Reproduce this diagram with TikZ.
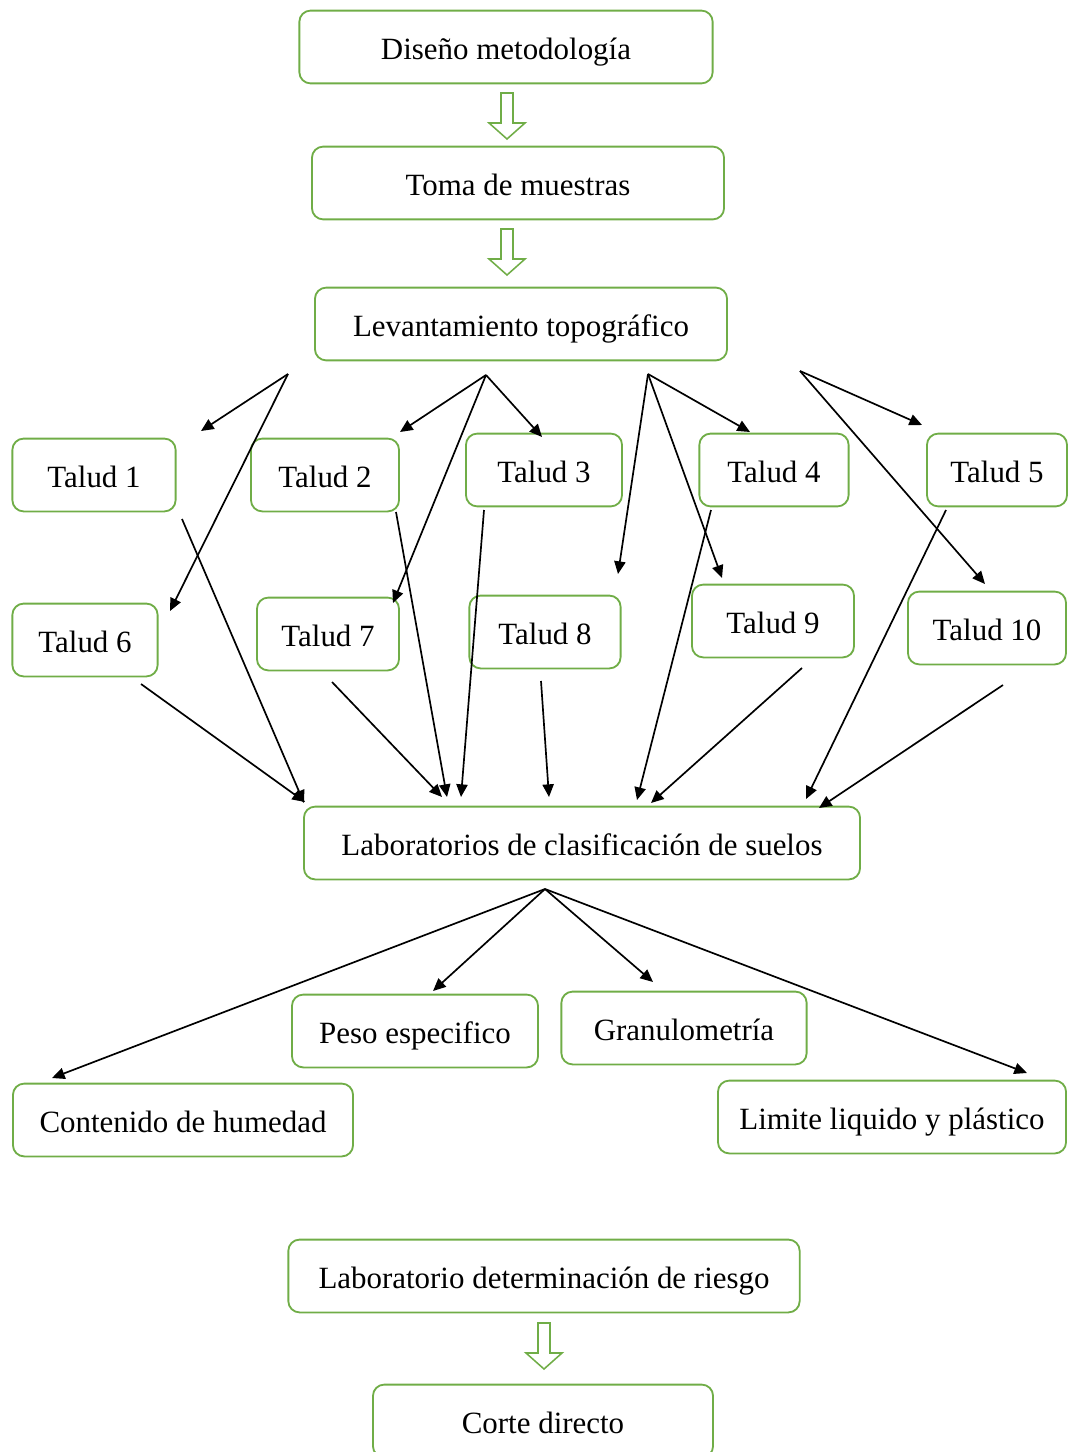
\documentclass[tikz,border=0pt]{standalone}
\usepackage{fontspec}
\setmainfont{Liberation Serif}
\usetikzlibrary{arrows.meta}
\definecolor{boxgreen}{RGB}{112,173,71}
\tikzset{
  box/.style={draw=boxgreen, line width=1.3pt, rounded corners=8pt, inner sep=0pt,
    minimum height=1.82cm, text height=18pt, text depth=0pt, font=\fontsize{22}{25}\selectfont},
  link/.style={-{Triangle[length=9pt,width=8pt]}, line width=1.2pt},
  hollow/.style={draw=boxgreen, line width=1.1pt}
}
\begin{document}
\begin{tikzpicture}[x=0.025cm, y=-0.025cm]
  \useasboundingbox (0,0) rectangle (1067,1452);
  % main column
  \node[box, minimum width=10.33cm] (diseno) at (506,47) {Diseño metodología};
  \node[box, minimum width=10.3cm] (toma) at (518,183) {Toma de muestras};
  \node[box, minimum width=10.3cm] (lev) at (521,324) {Levantamiento topográfico};
  % taludes
  \node[box, minimum width=4.08cm] (t1) at (94,475) {Talud 1};
  \node[box, minimum width=3.7cm] (t2) at (325,475) {Talud 2};
  \node[box, minimum width=3.9cm] (t3) at (544,470) {Talud 3};
  \node[box, minimum width=3.73cm] (t4) at (774,470) {Talud 4};
  \node[box, minimum width=3.5cm] (t5) at (997,470) {Talud 5};
  \node[box, minimum width=3.63cm] (t6) at (85,640) {Talud 6};
  \node[box, minimum width=3.55cm] (t7) at (328,634) {Talud 7};
  \node[box, minimum width=3.78cm] (t8) at (545,632) {Talud 8};
  \node[box, minimum width=4.05cm] (t9) at (773,621) {Talud 9};
  \node[box, minimum width=3.95cm] (t10) at (987,628) {Talud 10};
  % laboratorios
  \node[box, minimum width=13.9cm] (lab) at (582,843) {Laboratorios de clasificación de suelos};
  \node[box, minimum width=6.15cm] (peso) at (415,1031) {Peso especifico};
  \node[box, minimum width=6.13cm] (gran) at (684,1028) {Granulometría};
  \node[box, minimum width=8.5cm] (cont) at (183,1120) {Contenido de humedad};
  \node[box, minimum width=8.7cm] (lim) at (892,1117) {Limite liquido y plástico};
  \node[box, minimum width=12.78cm] (riesgo) at (544,1276) {Laboratorio determinación de riesgo};
  \node[box, minimum width=8.5cm] (corte) at (543,1421) {Corte directo};
  % hollow arrows
  \coordinate (h1) at (507,93);
  \coordinate (h2) at (507,229);
  \coordinate (h3) at (544,1323);
  \draw[hollow] (h1) ++(-6,0) -- ++(0,30) -- ++(-12,0) -- ++(18,16) -- ++(18,-16) -- ++(-12,0) -- ++(0,-30) -- cycle;
  \draw[hollow] (h2) ++(-6,0) -- ++(0,30) -- ++(-12,0) -- ++(18,16) -- ++(18,-16) -- ++(-12,0) -- ++(0,-30) -- cycle;
  \draw[hollow] (h3) ++(-6,0) -- ++(0,30) -- ++(-12,0) -- ++(18,16) -- ++(18,-16) -- ++(-12,0) -- ++(0,-30) -- cycle;
  % fan out to taludes
  \coordinate (o1) at (288,374);
  \coordinate (o2) at (486,375);
  \coordinate (o3) at (648,374);
  \coordinate (o4) at (800,371);
  \coordinate (e1) at (201,431);
  \coordinate (e2) at (400,432);
  \coordinate (e3) at (542,437);
  \coordinate (e4) at (750,432);
  \coordinate (e5) at (922,425);
  \coordinate (e6) at (170,611);
  \coordinate (e7) at (393,603);
  \coordinate (e8) at (618,574);
  \coordinate (e9) at (722,578);
  \coordinate (e10) at (985,584);
  \draw[link] (o1) -- (e1);
  \draw[link] (o1) -- (e6);
  \draw[link] (o2) -- (e2);
  \draw[link] (o2) -- (e3);
  \draw[link] (o2) -- (e7);
  \draw[link] (o3) -- (e4);
  \draw[link] (o3) -- (e8);
  \draw[link] (o3) -- (e9);
  \draw[link] (o4) -- (e5);
  \draw[link] (o4) -- (e10);
  % taludes into laboratorio
  \coordinate (s1) at (182,519);
  \coordinate (s2) at (396,512);
  \coordinate (s3) at (484,510);
  \coordinate (s4) at (711,510);
  \coordinate (s5) at (946,510);
  \coordinate (s6) at (141,684);
  \coordinate (s7) at (332,682);
  \coordinate (s8) at (541,681);
  \coordinate (s9) at (802,668);
  \coordinate (s10) at (1003,685);
  \coordinate (f1) at (304,803);
  \coordinate (f2) at (447,797);
  \coordinate (f3) at (461,797);
  \coordinate (f4) at (637,800);
  \coordinate (f5) at (806,799);
  \coordinate (f6) at (305,802);
  \coordinate (f7) at (442,797);
  \coordinate (f8) at (549,797);
  \coordinate (f9) at (651,803);
  \coordinate (f10) at (819,808);
  \draw[link] (s1) -- (f1);
  \draw[link] (s2) -- (f2);
  \draw[link] (s3) -- (f3);
  \draw[link] (s4) -- (f4);
  \draw[link] (s5) -- (f5);
  \draw[link] (s6) -- (f6);
  \draw[link] (s7) -- (f7);
  \draw[link] (s8) -- (f8);
  \draw[link] (s9) -- (f9);
  \draw[link] (s10) -- (f10);
  % ensayos
  \coordinate (o5) at (545,889);
  \coordinate (g1) at (52,1078);
  \coordinate (g2) at (433,991);
  \coordinate (g3) at (653,982);
  \coordinate (g4) at (1027,1073);
  \draw[link] (o5) -- (g1);
  \draw[link] (o5) -- (g2);
  \draw[link] (o5) -- (g3);
  \draw[link] (o5) -- (g4);
\end{tikzpicture}
\end{document}
